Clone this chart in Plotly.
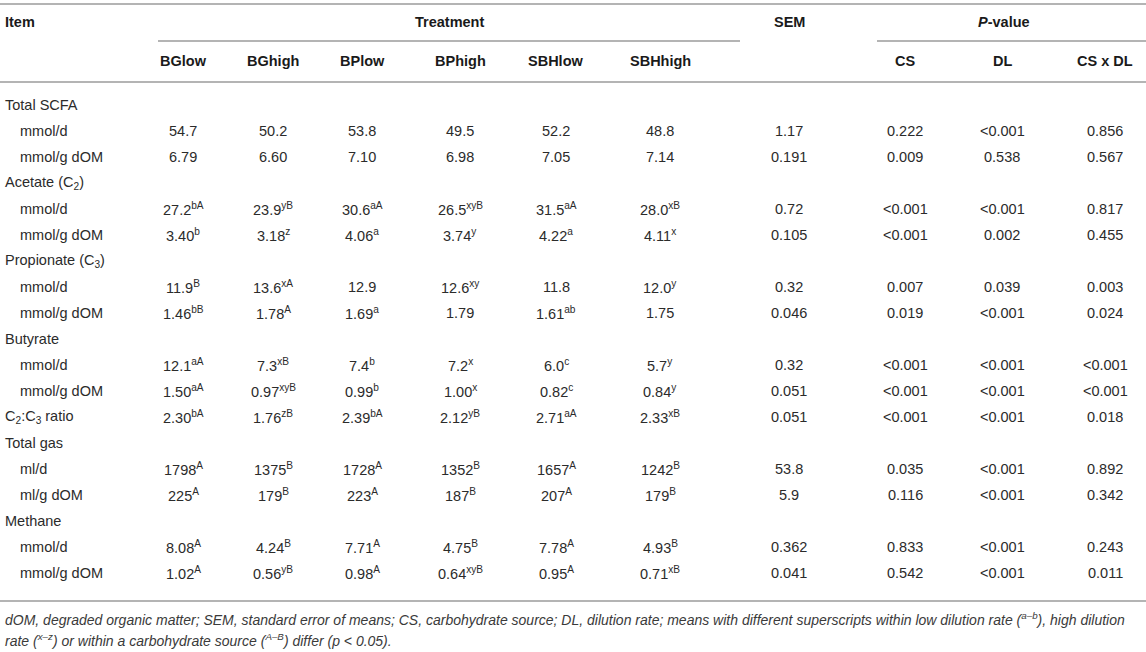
import plotly.graph_objects as go

# ---------------- data ----------------
row_labels = ["Total SCFA", "mmol/d", "mmol/g dOM",
              "Acetate (C<sub>2</sub>)", "mmol/d", "mmol/g dOM",
              "Propionate (C<sub>3</sub>)", "mmol/d", "mmol/g dOM",
              "Butyrate", "mmol/d", "mmol/g dOM",
              "C<sub>2</sub>:C<sub>3</sub> ratio",
              "Total gas", "ml/d", "ml/g dOM",
              "Methane", "mmol/d", "mmol/g dOM"]
row_indent = [0, 1, 1, 0, 1, 1, 0, 1, 1, 0, 1, 1, 0, 0, 1, 1, 0, 1, 1]

treatments = ["BGlow", "BGhigh", "BPlow", "BPhigh", "SBHlow", "SBHhigh"]
pvalue_cols = ["CS", "DL", "CS x DL"]

BGlow = ["", "54.7", "6.79", "", "27.2^bA", "3.40^b", "", "11.9^B", "1.46^bB",
         "", "12.1^aA", "1.50^aA", "2.30^bA", "", "1798^A", "225^A", "", "8.08^A", "1.02^A"]
BGhigh = ["", "50.2", "6.60", "", "23.9^yB", "3.18^z", "", "13.6^xA", "1.78^A",
          "", "7.3^xB", "0.97^xyB", "1.76^zB", "", "1375^B", "179^B", "", "4.24^B", "0.56^yB"]
BPlow = ["", "53.8", "7.10", "", "30.6^aA", "4.06^a", "", "12.9", "1.69^a",
         "", "7.4^b", "0.99^b", "2.39^bA", "", "1728^A", "223^A", "", "7.71^A", "0.98^A"]
BPhigh = ["", "49.5", "6.98", "", "26.5^xyB", "3.74^y", "", "12.6^xy", "1.79",
          "", "7.2^x", "1.00^x", "2.12^yB", "", "1352^B", "187^B", "", "4.75^B", "0.64^xyB"]
SBHlow = ["", "52.2", "7.05", "", "31.5^aA", "4.22^a", "", "11.8", "1.61^ab",
          "", "6.0^c", "0.82^c", "2.71^aA", "", "1657^A", "207^A", "", "7.78^A", "0.95^A"]
SBHhigh = ["", "48.8", "7.14", "", "28.0^xB", "4.11^x", "", "12.0^y", "1.75",
           "", "5.7^y", "0.84^y", "2.33^xB", "", "1242^B", "179^B", "", "4.93^B", "0.71^xB"]
SEM = ["", "1.17", "0.191", "", "0.72", "0.105", "", "0.32", "0.046",
       "", "0.32", "0.051", "0.051", "", "53.8", "5.9", "", "0.362", "0.041"]
P_CS = ["", "0.222", "0.009", "", "<0.001", "<0.001", "", "0.007", "0.019",
        "", "<0.001", "<0.001", "<0.001", "", "0.035", "0.116", "", "0.833", "0.542"]
P_DL = ["", "<0.001", "0.538", "", "<0.001", "0.002", "", "0.039", "<0.001",
        "", "<0.001", "<0.001", "<0.001", "", "<0.001", "<0.001", "", "<0.001", "<0.001"]
P_CSxDL = ["", "0.856", "0.567", "", "0.817", "0.455", "", "0.003", "0.024",
           "", "<0.001", "<0.001", "0.018", "", "0.892", "0.342", "", "0.243", "0.011"]

footnote_lines = [
    "dOM, degraded organic matter; SEM, standard error of means; CS, carbohydrate source; DL, dilution rate; "
    "means with different superscripts within low dilution rate (^a\u2013b), high dilution",
    "rate (^x\u2013z) or within a carbohydrate source (^A\u2013B) differ (p < 0.05).",
]

# ---------------- layout helpers ----------------
W, H = 1146, 652
FONT = "Liberation Sans, Arial, Helvetica, sans-serif"
TXT = "#2b2b2b"
HDR = "#1a1a1a"
LINE = "#b4b4b4"
FS = 14.5

col_x = [183, 273, 362, 460, 556, 660, 789, 905, 1002, 1105]
columns = [BGlow, BGhigh, BPlow, BPhigh, SBHlow, SBHhigh, SEM, P_CS, P_DL, P_CSxDL]
row_y0, row_dy = 104.5, 26.0


def fmt(s):
    s = s.replace("<", "&lt;")
    if "^" in s:
        base, sup = s.split("^", 1)
        return f"{base}<sup>{sup}</sup>"
    return s


def fmt_note(s):
    s = s.replace("<", "&lt;")
    out = ""
    i = 0
    while i < len(s):
        if s[i] == "^":
            j = s.index(")", i)
            out += "<sup>" + s[i + 1:j] + "</sup>"
            i = j
        else:
            out += s[i]
            i += 1
    return out


fig = go.Figure()
fig.add_trace(go.Scatter(x=[0, W], y=[0, H], mode="markers",
                         marker=dict(opacity=0), hoverinfo="skip", showlegend=False))

ann = []


def add_text(x, y, text, size=FS, color=TXT, xanchor="center", bold=False, italic=False):
    t = text
    if bold:
        t = f"<b>{t}</b>"
    if italic:
        t = f"<i>{t}</i>"
    ann.append(dict(x=x, y=y, xref="x", yref="y", text=t, showarrow=False,
                    xanchor=xanchor, yanchor="middle",
                    font=dict(family=FONT, size=size, color=color)))


# header
add_text(3, 22, "Item", color=HDR, xanchor="left", bold=True)
add_text(449, 22, "Treatment", color=HDR, bold=True)
add_text(789, 22, "SEM", color=HDR, bold=True)
add_text(1004, 22, "<i>P</i>-value", color=HDR, bold=True)
for name, x in zip(treatments + pvalue_cols, col_x[:6] + col_x[7:]):
    add_text(x, 61, name, color=HDR, bold=True)

# body
for i, (lab, ind) in enumerate(zip(row_labels, row_indent)):
    y = row_y0 + row_dy * i
    add_text(3 + 15 * ind, y, lab, xanchor="left")
    for col, x in zip(columns, col_x):
        if col[i]:
            add_text(x, y, fmt(col[i]))

# footnote
for k, line in enumerate(footnote_lines):
    add_text(3, 619 + 21 * k, fmt_note(line), size=14, color="#3a3a3a",
             xanchor="left", italic=True)

shapes = []


def hline(x0, x1, y, w=2):
    shapes.append(dict(type="line", xref="x", yref="y", x0=x0, x1=x1, y0=y, y1=y,
                       line=dict(color=LINE, width=w)))


hline(0, W, 4)
hline(158, 740, 41)
hline(877, W, 41)
hline(0, W, 82)
hline(0, W, 601)

fig.update_layout(
    width=W, height=H,
    margin=dict(l=0, r=0, t=0, b=0),
    paper_bgcolor="white", plot_bgcolor="white",
    xaxis=dict(range=[0, W], visible=False, fixedrange=True),
    yaxis=dict(range=[H, 0], visible=False, fixedrange=True),
    annotations=ann, shapes=shapes, showlegend=False,
)

fig.write_html("out.html", config={"displayModeBar": False},
               post_script="document.body.style.margin='0';document.body.style.overflow='hidden';")
